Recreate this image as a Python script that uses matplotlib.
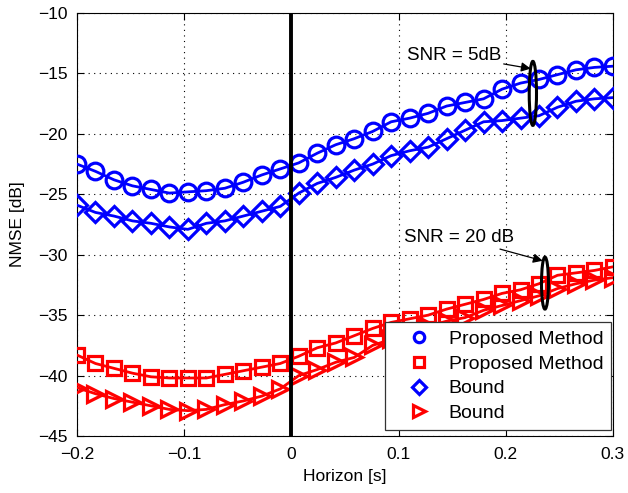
import numpy as np
import matplotlib
matplotlib.use("Agg")
import matplotlib.pyplot as plt
from matplotlib.patches import Ellipse
from matplotlib.lines import Line2D

plt.rcParams['font.family'] = ['Liberation Sans', 'DejaVu Sans']

horizon = np.linspace(-0.2, 0.3, 30)

prop_5db = [-22.5, -23.1, -23.8, -24.3, -24.6, -24.9, -24.8, -24.7, -24.5, -24.0,
            -23.4, -22.9, -22.4, -21.6, -20.9, -20.4, -19.8, -19.0, -18.7, -18.3,
            -17.7, -17.4, -17.1, -16.3, -15.8, -15.5, -15.1, -14.7, -14.5, -14.4]
bound_5db = [-25.9, -26.5, -26.8, -27.2, -27.4, -27.7, -27.9, -27.4, -27.2, -26.8,
             -26.4, -26.0, -24.9, -24.1, -23.6, -23.0, -22.5, -21.8, -21.4, -21.1,
             -20.4, -19.7, -19.0, -18.9, -18.7, -18.5, -17.8, -17.3, -17.1, -17.0]
prop_20db = [-38.3, -39.0, -39.4, -39.8, -40.1, -40.2, -40.2, -40.2, -39.9, -39.6,
             -39.3, -39.0, -38.4, -37.7, -37.3, -36.7, -36.1, -35.6, -35.3, -35.0,
             -34.5, -34.1, -33.7, -33.2, -32.9, -32.4, -31.7, -31.5, -31.3, -31.0]
bound_20db = [-41.0, -41.5, -41.9, -42.2, -42.5, -42.8, -42.9, -42.8, -42.4, -42.1,
              -41.7, -41.1, -40.0, -39.5, -38.9, -38.5, -37.5, -37.0, -36.4, -35.9,
              -35.5, -35.2, -34.6, -34.2, -33.8, -33.4, -32.8, -32.4, -32.1, -31.9]

legend_labels = ['Proposed Method', 'Proposed Method', 'Bound', 'Bound']
xticks = [-0.2, -0.1, 0, 0.1, 0.2, 0.3]
yticks = [-45, -40, -35, -30, -25, -20, -15, -10]
present_time = 0.0

fig = plt.figure(figsize=(6.28, 4.93), dpi=100)
ax = fig.add_axes([0.1226, 0.1156, 0.976 - 0.1226, 0.9736 - 0.1156])

BLUE = (0, 0, 1)
RED = (1, 0, 0)
lw = 2.0
mew = 2.3

# (values, colour, marker, plot marker size, legend marker size)
styles = [
    (prop_5db, BLUE, 'o', 12, 7.5),
    (prop_20db, RED, 's', 9.5, 6.5),
    (bound_5db, BLUE, 'D', 10, 7.5),
    (bound_20db, RED, '>', 11.5, 8),
]
handles = []
for (vals, col, mk, ms, lms), lab in zip(styles, legend_labels):
    ax.plot(horizon, vals, color=col, lw=lw, marker=mk, ms=ms,
            mfc='none', mec=col, mew=mew, zorder=3)
    handles.append(Line2D([], [], linestyle='none', marker=mk, ms=lms,
                          mfc='none', mec=col, mew=mew))

ax.axvline(present_time, color='black', lw=2.8, zorder=4)

ax.set_xlim(-0.2, 0.3)
ax.set_ylim(-45, -10)
ax.set_xticks(xticks)
ax.set_xticklabels(['\u22120.2', '\u22120.1', '0', '0.1', '0.2', '0.3'])
ax.set_yticks(yticks)
ax.set_yticklabels(['\u221245', '\u221240', '\u221235', '\u221230', '\u221225',
                    '\u221220', '\u221215', '\u221210'])
ax.tick_params(direction='in', top=True, right=True, labelsize=12.5, length=5,
               width=0.8)
ax.tick_params(axis='x', pad=8)
ax.tick_params(axis='y', pad=7)
ax.grid(True, linestyle=(0, (1, 4)), color='black', lw=0.8)
for s in ax.spines.values():
    s.set_linewidth(0.8)

ax.set_xlabel('Horizon [s]', fontsize=12.5, labelpad=5)
ax.set_ylabel('NMSE [dB]', fontsize=12.5, labelpad=9)

# SNR annotations
ax.add_patch(Ellipse((0.2253, -16.65), 0.0068, 5.3, fill=False, ec='black',
                     lw=2.2, zorder=5))
ax.annotate('SNR = 5dB', xy=(0.2233, -14.6), xytext=(0.1955, -13.5),
            fontsize=13.5, ha='right', va='center',
            arrowprops=dict(arrowstyle='-|>', color='black', lw=0.9,
                            mutation_scale=14, shrinkA=0, shrinkB=0), zorder=6)
ax.add_patch(Ellipse((0.2366, -32.35), 0.0065, 4.3, fill=False, ec='black',
                     lw=2.2, zorder=5))
ax.annotate('SNR = 20 dB', xy=(0.2345, -30.5), xytext=(0.2075, -28.6),
            fontsize=13.5, ha='right', va='center',
            arrowprops=dict(arrowstyle='-|>', color='black', lw=0.9,
                            mutation_scale=14, shrinkA=0, shrinkB=0), zorder=6)

leg = ax.legend(handles, legend_labels, loc='lower right',
                bbox_to_anchor=(0.997, 0.014), borderaxespad=0,
                fontsize=14, frameon=True, fancybox=False, framealpha=1,
                edgecolor='#333333', handlelength=2.7, handletextpad=0.15,
                labelspacing=0.36, borderpad=0.42)
leg.get_frame().set_linewidth(0.9)
leg.set_zorder(10)

fig.savefig('out.png', dpi=100)
